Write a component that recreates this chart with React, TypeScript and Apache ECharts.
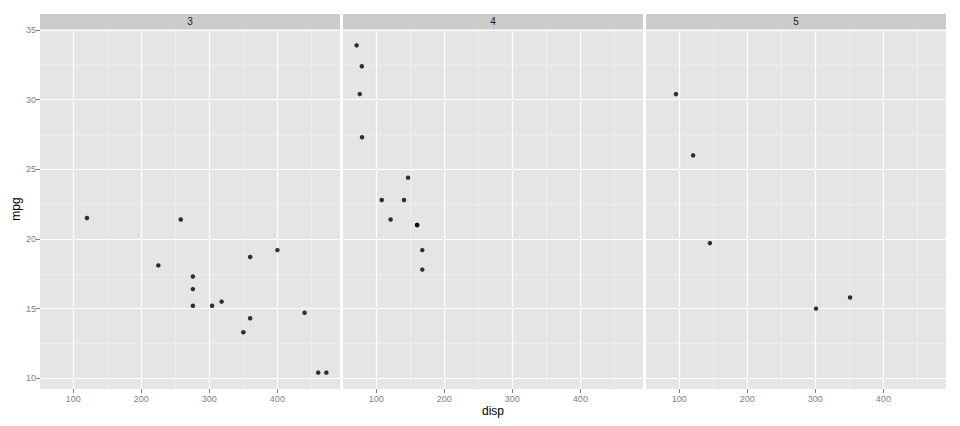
import React, { useEffect, useRef } from "react";
import * as echarts from "echarts";

const facets = ["3", "4", "5"];
const gear3Disp = [258, 360, 225, 360, 275.8, 275.8, 275.8, 472, 460, 440, 120.1, 318, 304, 350, 400];
const gear3Mpg = [21.4, 18.7, 18.1, 14.3, 16.4, 17.3, 15.2, 10.4, 10.4, 14.7, 21.5, 15.5, 15.2, 13.3, 19.2];
const gear4Disp = [160, 160, 108, 146.7, 140.8, 167.6, 167.6, 78.7, 75.7, 71.1, 79, 121];
const gear4Mpg = [21, 21, 22.8, 24.4, 22.8, 19.2, 17.8, 32.4, 30.4, 33.9, 27.3, 21.4];
const gear5Disp = [120.3, 95.1, 351, 145, 301];
const gear5Mpg = [26, 30.4, 15.8, 19.7, 15];

const xTicks = [100, 200, 300, 400];
const xMinor = [150, 250, 350, 450];
const yTicks = [10, 15, 20, 25, 30, 35];
const yMinor = [12.5, 17.5, 22.5, 27.5, 32.5];

const xData = [gear3Disp, gear4Disp, gear5Disp];
const yData = [gear3Mpg, gear4Mpg, gear5Mpg];

export default function App() {
  const ref = useRef<HTMLDivElement>(null);
  useEffect(() => {
    if (!ref.current) return;
    const chart = echarts.init(ref.current, null, { renderer: "svg" });
    const allX = xData.flat();
    const allY = yData.flat();
    const xr = [Math.min(...allX), Math.max(...allX)];
    const yr = [Math.min(...allY), Math.max(...allY)];
    const xe = (xr[1] - xr[0]) * 0.05;
    const ye = (yr[1] - yr[0]) * 0.05;
    const xMin = xr[0] - xe, xMax = xr[1] + xe;
    const yMin = yr[0] - ye, yMax = yr[1] + ye;

    const lefts = [40, 343, 646];
    const top = 29, height = 360, width = 300;
    const font = "'Liberation Sans', Arial, sans-serif";

    const grids = lefts.map((l) => ({
      left: l, top, width, height, show: true, backgroundColor: "#e5e5e5", borderWidth: 0,
    }));
    const xAxes = lefts.map((_, i) => ({
      type: "value", gridIndex: i, min: xMin, max: xMax,
      axisLine: { show: false }, splitLine: { show: false },
      axisTick: { show: true, length: 4, lineStyle: { color: "#7f7f7f" }, customValues: xTicks },
      axisLabel: { show: true, color: "#7f7f7f", fontSize: 9, fontFamily: font, margin: 5, customValues: xTicks },
    }));
    const yAxes = lefts.map((_, i) => ({
      type: "value", gridIndex: i, min: yMin, max: yMax,
      axisLine: { show: false }, splitLine: { show: false },
      axisTick: { show: i === 0, length: 4, lineStyle: { color: "#7f7f7f" }, customValues: yTicks },
      axisLabel: { show: i === 0, color: "#7f7f7f", fontSize: 9, fontFamily: font, margin: 4, customValues: yTicks },
    }));

    const series: any[] = [];
    lefts.forEach((_, i) => {
      const lineData = (vals: number[], key: string) => vals.map((v) => ({ [key]: v }));
      series.push({
        type: "line", xAxisIndex: i, yAxisIndex: i, data: [], silent: true,
        markLine: {
          silent: true, symbol: ["none", "none"], label: { show: false }, z: 1, animation: false,
          lineStyle: { color: "#f2f2f2", width: 0.6, type: "solid" },
          data: [...lineData(xMinor, "xAxis"), ...lineData(yMinor, "yAxis")],
        },
      });
      series.push({
        type: "line", xAxisIndex: i, yAxisIndex: i, data: [], silent: true,
        markLine: {
          silent: true, symbol: ["none", "none"], label: { show: false }, z: 1, animation: false,
          lineStyle: { color: "#ffffff", width: 1.2, type: "solid" },
          data: [...lineData(xTicks, "xAxis"), ...lineData(yTicks, "yAxis")],
        },
      });
      series.push({
        type: "scatter", xAxisIndex: i, yAxisIndex: i, z: 3,
        symbol: "circle", symbolSize: 4.5,
        itemStyle: { color: "#000000" },
        data: xData[i].map((x, k) => [x, yData[i][k]]),
      });
    });

    const graphics: any[] = [];
    lefts.forEach((l, i) => {
      graphics.push({ type: "rect", shape: { x: l, y: 14, width, height: 15 }, style: { fill: "#cccccc" } });
      graphics.push({
        type: "text", x: l + width / 2, y: 21.5,
        style: { text: facets[i], fill: "#1a1a1a", font: `normal 10px ${font}`, textAlign: "center", textVerticalAlign: "middle" },
      });
    });
    graphics.push({
      type: "text", x: 493, y: 411,
      style: { text: "disp", fill: "#000000", font: `12px ${font}`, textAlign: "center", textVerticalAlign: "middle" },
    });
    graphics.push({
      type: "text", x: 16, y: 209, rotation: Math.PI / 2,
      style: { text: "mpg", fill: "#000000", font: `12px ${font}`, textAlign: "center", textVerticalAlign: "middle" },
    });

    chart.setOption({
      animation: false,
      backgroundColor: "#ffffff",
      grid: grids,
      xAxis: xAxes,
      yAxis: yAxes,
      series,
      graphic: graphics,
    });
    return () => chart.dispose();
  }, []);
  return <div ref={ref} style={{ width: 960, height: 426, position: "absolute", left: 0, top: 0 }} />;
}
